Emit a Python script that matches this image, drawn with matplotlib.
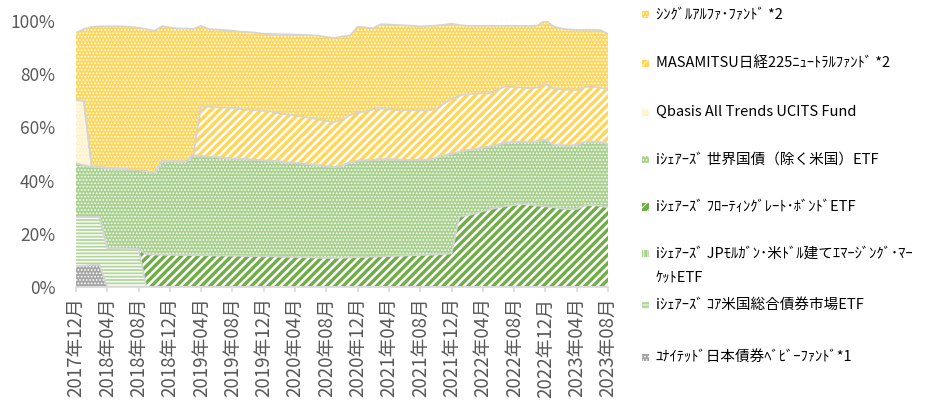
import numpy as np
import pandas as pd
import matplotlib
matplotlib.use("Agg")
import matplotlib.pyplot as plt
from matplotlib.patches import Rectangle

plt.rcParams['font.family'] = ['Noto Sans CJK JP', 'DejaVu Sans']
plt.rcParams['hatch.color'] = 'white'

# months 2017-12 .. 2023-08
months = pd.date_range("2017-12-01", periods=69, freq="MS")
month_labels = [f"{d.year}年{d.month:02d}月" for d in months]

# shares (%) per month, bottom to top of the stack
united = [7.8, 8.0, 8.3, 8.3] + [0.0] * 65
core_us = [18.6, 18.4, 18.1, 17.9, 14.6, 14.5, 14.4, 14.3, 14.2] + [0.0] * 60
jp_morgan = [0.0] * 69
floating = [0.0] * 9 + [
    12.2, 12.2, 12.1, 12.1, 12.0, 12.0, 12.0, 11.9, 11.9, 11.8,
    11.8, 11.7, 11.7, 11.6, 11.6, 11.5, 11.5, 11.4, 11.3, 11.3,
    11.2, 11.1, 11.0, 10.9, 10.9, 11.0, 11.1, 11.2, 11.3, 11.4,
    11.5, 11.6, 11.7, 11.8, 11.9, 12.0, 12.1, 12.2, 12.4, 12.6,
    26.4, 27.0, 27.6, 28.5, 29.3, 29.9, 30.4, 30.8, 31.2, 31.0,
    30.6, 30.3, 30.0, 29.5, 29.2, 29.3, 30.6, 30.8, 30.5, 29.9]
world_ex_us = [
    20.1, 19.4, 18.8, 18.8, 30.2, 30.0, 29.9, 29.8, 29.8, 31.3,
    30.6, 35.1, 35.2, 35.2, 35.2, 37.5, 37.4, 37.1, 37.0, 36.7,
    36.6, 36.4, 36.4, 36.2, 36.1, 36.0, 35.8, 35.6, 35.3, 35.2,
    35.0, 34.8, 34.5, 34.2, 34.6, 35.7, 36.3, 36.3, 36.4, 36.5,
    36.4, 36.2, 36.0, 35.9, 35.9, 35.7, 36.4, 37.0, 37.5, 24.4,
    24.4, 24.2, 23.9, 23.6, 23.7, 23.9, 23.7, 23.4, 23.6, 24.1,
    25.1, 23.5, 23.8, 23.9, 24.1, 23.9, 23.9, 23.9, 23.9]
qbasis = [23.8, 24.2] + [0.0] * 67
masamitsu = [0.0] * 16 + [
    18.7, 18.8, 18.8, 18.9, 18.9, 18.8, 18.6, 18.6, 18.6, 18.4,
    18.1, 18.0, 17.9, 17.6, 17.4, 17.2, 17.0, 16.9, 17.4, 17.8,
    18.0, 18.4, 19.0, 19.1, 18.8, 18.6, 18.7, 18.7, 18.5, 18.6,
    18.2, 19.4, 20.5, 21.2, 21.0, 20.8, 20.4, 20.0, 20.7, 21.2,
    20.6, 20.3, 20.1, 20.3, 20.9, 21.1, 21.0, 21.0, 20.6, 20.7,
    20.6, 20.6, 20.2]
single_alpha = [
    25.3, 27.0, 52.6, 53.0, 53.2, 53.5, 53.7, 53.7, 53.5, 53.5,
    53.5, 50.8, 50.3, 50.0, 50.0, 47.5, 30.2, 29.2, 29.2, 29.2,
    29.2, 29.1, 29.3, 29.2, 29.0, 29.2, 29.7, 30.1, 30.4, 30.8,
    31.2, 31.5, 31.6, 31.6, 31.2, 29.9, 32.3, 31.6, 30.5, 31.7,
    31.9, 32.0, 31.9, 31.7, 31.6, 31.7, 31.5, 29.8, 28.4, 26.5,
    25.8, 25.6, 25.4, 25.3, 23.9, 22.7, 23.1, 23.3, 23.4, 23.3,
    24.0, 23.4, 22.9, 22.7, 22.7, 21.5, 21.4, 21.6, 21.2]

names = [
    "ﾕﾅｲﾃｯﾄﾞ日本債券ﾍﾞﾋﾞｰﾌｧﾝﾄﾞ*1",
    "iｼｪｱｰｽﾞ ｺｱ米国総合債券市場ETF",
    "iｼｪｱｰｽﾞ JPﾓﾙｶﾞﾝ･米ﾄﾞﾙ建てｴﾏｰｼﾞﾝｸﾞ･ﾏｰ\nｹｯﾄETF",
    "iｼｪｱｰｽﾞ ﾌﾛｰﾃｨﾝｸﾞﾚｰﾄ･ﾎﾞﾝﾄﾞETF",
    "iｼｪｱｰｽﾞ 世界国債（除く米国）ETF",
    "Qbasis All Trends UCITS Fund",
    "MASAMITSU日経225ﾆｭｰﾄﾗﾙﾌｧﾝﾄﾞ *2",
    "ｼﾝｸﾞﾙｱﾙﾌｧ･ﾌｧﾝﾄﾞ *2",
]
values = [united, core_us, jp_morgan, floating, world_ex_us, qbasis, masamitsu, single_alpha]
colors = ["#A5A5A5", "#B2D79A", "#A9D18E", "#70AD47", "#A9D18E", "#FFF2CC", "#FFD65A", "#FFD65A"]
hatches = [".....", "-----", "||||", "////", ".....", ".....", "////", "....."]
hatch_lw = [0.8, 1.1, 1.3, 1.8, 0.8, 0.8, 1.8, 0.8]


def hatched(make, lw):
    # hatch width per artist
    with plt.rc_context({'hatch.linewidth': lw}):
        art = make()
    if hasattr(art, 'set_hatch_linewidth'):
        art.set_hatch_linewidth(lw)
    return art


fig = plt.figure(figsize=(9.42, 4.11), dpi=100)
ax = fig.add_axes([76 / 942, 1 - 287 / 411, (608 - 76) / 942, (287 - 21) / 411])
x = np.arange(len(months))

base = np.zeros(len(x))
tops = []
for vals, col, hat, hl in zip(values, colors, hatches, hatch_lw):
    top = base + np.array(vals)
    hatched(lambda: ax.fill_between(x, base, top, facecolor=col, edgecolor='white',
                                    linewidth=0, hatch=hat), hl)
    tops.append((top, max(vals) > 0))
    base = top
for top, used in tops:
    if used:
        ax.plot(x, top, color='#D4D4D4', lw=1.2, solid_joinstyle='round')

ax.set_xlim(0, 68)
ax.set_ylim(0, 100)
for s in ['top', 'right', 'left']:
    ax.spines[s].set_visible(False)
ax.spines['bottom'].set_color('#D9D9D9')
ax.spines['bottom'].set_linewidth(1.2)
ax.set_yticks(range(0, 101, 20))
ax.set_yticklabels([f"{v}%" for v in range(0, 101, 20)], fontsize=12.5, color='#595959')
ax.tick_params(axis='y', length=0, pad=15)
ax.set_xticks(x[::4])
ax.set_xticklabels(month_labels[::4], rotation=90, fontsize=13.5, color='#595959')
ax.tick_params(axis='x', length=3.5, color='#D9D9D9', width=1.2, pad=4)

# legend drawn on the right, top entry first
legend_y = [15, 63, 112, 160, 207, 266, 305, 357]
entries = list(zip(names, colors, hatches, hatch_lw))[::-1]
for (name, col, hat, hl), yy in zip(entries, legend_y):
    fy = 1 - yy / 411
    box = (yy - 13) if "\n" in name else yy
    fb = 1 - box / 411
    rect = hatched(lambda: Rectangle((642 / 942, fb - 3.5 / 411), 7 / 942, 7 / 411,
                                     transform=fig.transFigure, facecolor=col,
                                     edgecolor='white', linewidth=0, hatch=hat), 0.6)
    fig.patches.append(rect)
    fig.text(656 / 942, fy, name, fontsize=10.5, color='#000000', va='center',
             ha='left', linespacing=2.0)

fig.savefig("out.png", dpi=100)
